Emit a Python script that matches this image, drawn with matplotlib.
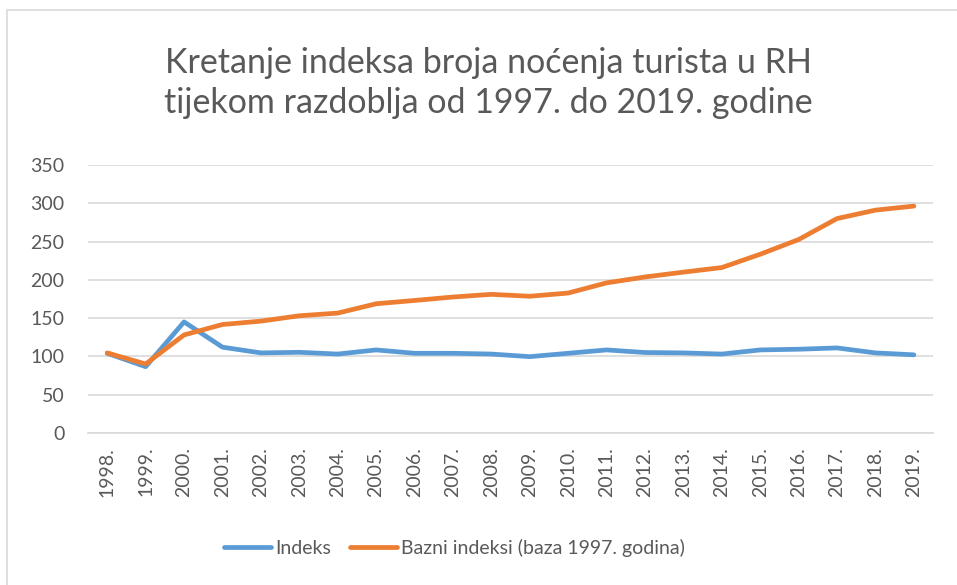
import matplotlib.pyplot as plt
import numpy as np
from matplotlib.patches import Rectangle

years = ['1998.', '1999.', '2000.', '2001.', '2002.', '2003.', '2004.', '2005.',
         '2006.', '2007.', '2008.', '2009.', '2010.', '2011.', '2012.', '2013.',
         '2014.', '2015.', '2016.', '2017.', '2018.', '2019.']
indeks = [104, 86.5, 145, 112, 104.5, 105.3, 103, 108.4, 104, 104, 103, 99.6,
          104, 108.4, 105, 104.5, 103, 108.4, 109.3, 111, 104.5, 102]
bazni = [104.5, 90, 128, 141.6, 146, 153, 156.5, 168.7, 173, 177.5, 181, 178.5,
         182.7, 196, 203.7, 210, 216, 233.4, 252.6, 280, 291, 296.3]

plt.rcParams['font.family'] = ['Lato', 'DejaVu Sans']
gray = '#595959'

fig = plt.figure(figsize=(9.57, 5.85), dpi=100)
ax = fig.add_axes([0.092, 0.26, 0.883, 0.458])
x = np.arange(len(years))

ax.plot(x, indeks, color='#5B9BD5', lw=3.4, solid_capstyle='round', label='Indeks')
ax.plot(x, bazni, color='#ED7D31', lw=3.4, solid_capstyle='round',
        label='Bazni indeksi (baza 1997. godina)')

ax.set_xlim(-0.5, len(years) - 0.5)
ax.set_ylim(0, 350)
ax.set_yticks(range(0, 351, 50))
ax.set_xticks(x)
ax.set_xticklabels(years, rotation=90)
ax.tick_params(axis='both', length=0, labelsize=14, labelcolor=gray)
ax.tick_params(axis='x', pad=10)
ax.tick_params(axis='y', pad=17)
ax.yaxis.grid(True, color='#d9d9d9', lw=1.2)
ax.set_axisbelow(True)
for s in ['top', 'right', 'left']:
    ax.spines[s].set_visible(False)
ax.spines['bottom'].set_color('#d9d9d9')
ax.spines['bottom'].set_linewidth(1.2)

fig.text(0.51, 0.858, 'Kretanje indeksa broja noćenja turista u RH\ntijekom razdoblja od 1997. do 2019. godine',
         ha='center', va='center', fontsize=24.5, color=gray, linespacing=1.3)

fig.legend(loc='center', bbox_to_anchor=(0.475, 0.063), ncol=2, frameon=False,
           fontsize=14, labelcolor=gray, handlelength=2.4, handletextpad=0.2,
           columnspacing=1.0)

# chart border, clipped by the image on the right and bottom
fig.add_artist(Rectangle((0.0078, -0.02), 1.05, 0.983 + 0.02, transform=fig.transFigure,
                         fill=False, edgecolor='#d9d9d9', lw=1.2))

fig.savefig('out.png', dpi=100)
